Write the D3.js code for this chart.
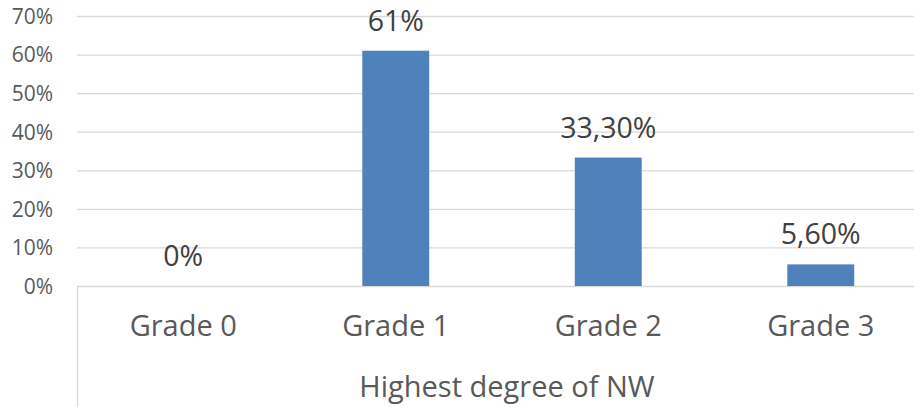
<!DOCTYPE html>
<html><head><meta charset="utf-8">
<script src="https://cdn.jsdelivr.net/npm/d3@7"></script>
<style>body{margin:0;background:#fff}svg{display:block}</style>
</head><body>
<svg id="c" width="914" height="407"></svg>
<script>
const categories = ["Grade 0", "Grade 1", "Grade 2", "Grade 3"];
const values = [0, 61, 33.3, 5.6];
const valueLabels = ["0%", "61%", "33,30%", "5,60%"];
const yTicks = [0, 10, 20, 30, 40, 50, 60, 70];
const xTitle = "Highest degree of NW";

(function () {
const svg = d3.select("#c");
const font = "'Open Sans', sans-serif";
const pLeft = 77, pRight = 927, pTop = 16, pBottom = 286;

const x = d3.scaleBand().domain(categories).range([pLeft, pRight]).paddingInner(0.685).paddingOuter(0.3425);
const y = d3.scaleLinear().domain([0, 70]).range([pBottom, pTop]);

// gridlines
svg.append("g").selectAll("line").data(yTicks).join("line")
  .attr("x1", pLeft).attr("x2", pRight)
  .attr("y1", d => y(d) + 0.5).attr("y2", d => y(d) + 0.5)
  .attr("stroke", "#d9d9d9").attr("stroke-width", 1.3);

// y axis labels
const yAxis = d3.axisLeft(y).tickValues(yTicks).tickSize(0).tickPadding(0).tickFormat(d => d + "%");
svg.append("g").attr("transform", `translate(53,0)`).call(yAxis)
  .call(g => g.select(".domain").remove())
  .call(g => g.selectAll("text").attr("font-family", font).attr("font-size", 21).attr("fill", "#595959").attr("dy", "0.35em"));

// vertical category-axis line
svg.append("line").attr("x1", pLeft + 0.5).attr("x2", pLeft + 0.5).attr("y1", pBottom).attr("y2", 407)
  .attr("stroke", "#d9d9d9").attr("stroke-width", 1.3);

// bars
svg.append("g").selectAll("rect").data(values).join("rect")
  .attr("x", (d, i) => x(categories[i]))
  .attr("width", x.bandwidth())
  .attr("y", d => y(d))
  .attr("height", d => y(0) - y(d))
  .attr("fill", "#4f81bd");

// value labels
svg.append("g").selectAll("text").data(values).join("text")
  .attr("x", (d, i) => x(categories[i]) + x.bandwidth() / 2)
  .attr("y", d => y(d) - 20)
  .attr("text-anchor", "middle")
  .attr("font-family", font).attr("font-size", 28.5).attr("fill", "#404040")
  .text((d, i) => valueLabels[i]);

// category labels
const xAxis = d3.axisBottom(x).tickSize(0).tickPadding(0);
svg.append("g").attr("transform", `translate(0,${pBottom})`).call(xAxis)
  .call(g => g.select(".domain").remove())
  .call(g => g.selectAll("text").attr("font-family", font).attr("font-size", 29).attr("fill", "#595959").attr("dy", null).attr("y", 50));

// axis title
svg.append("text").attr("x", 507).attr("y", 397).attr("text-anchor", "middle")
  .attr("font-family", font).attr("font-size", 29).attr("fill", "#595959").text(xTitle);
})();
</script>
</body></html>
